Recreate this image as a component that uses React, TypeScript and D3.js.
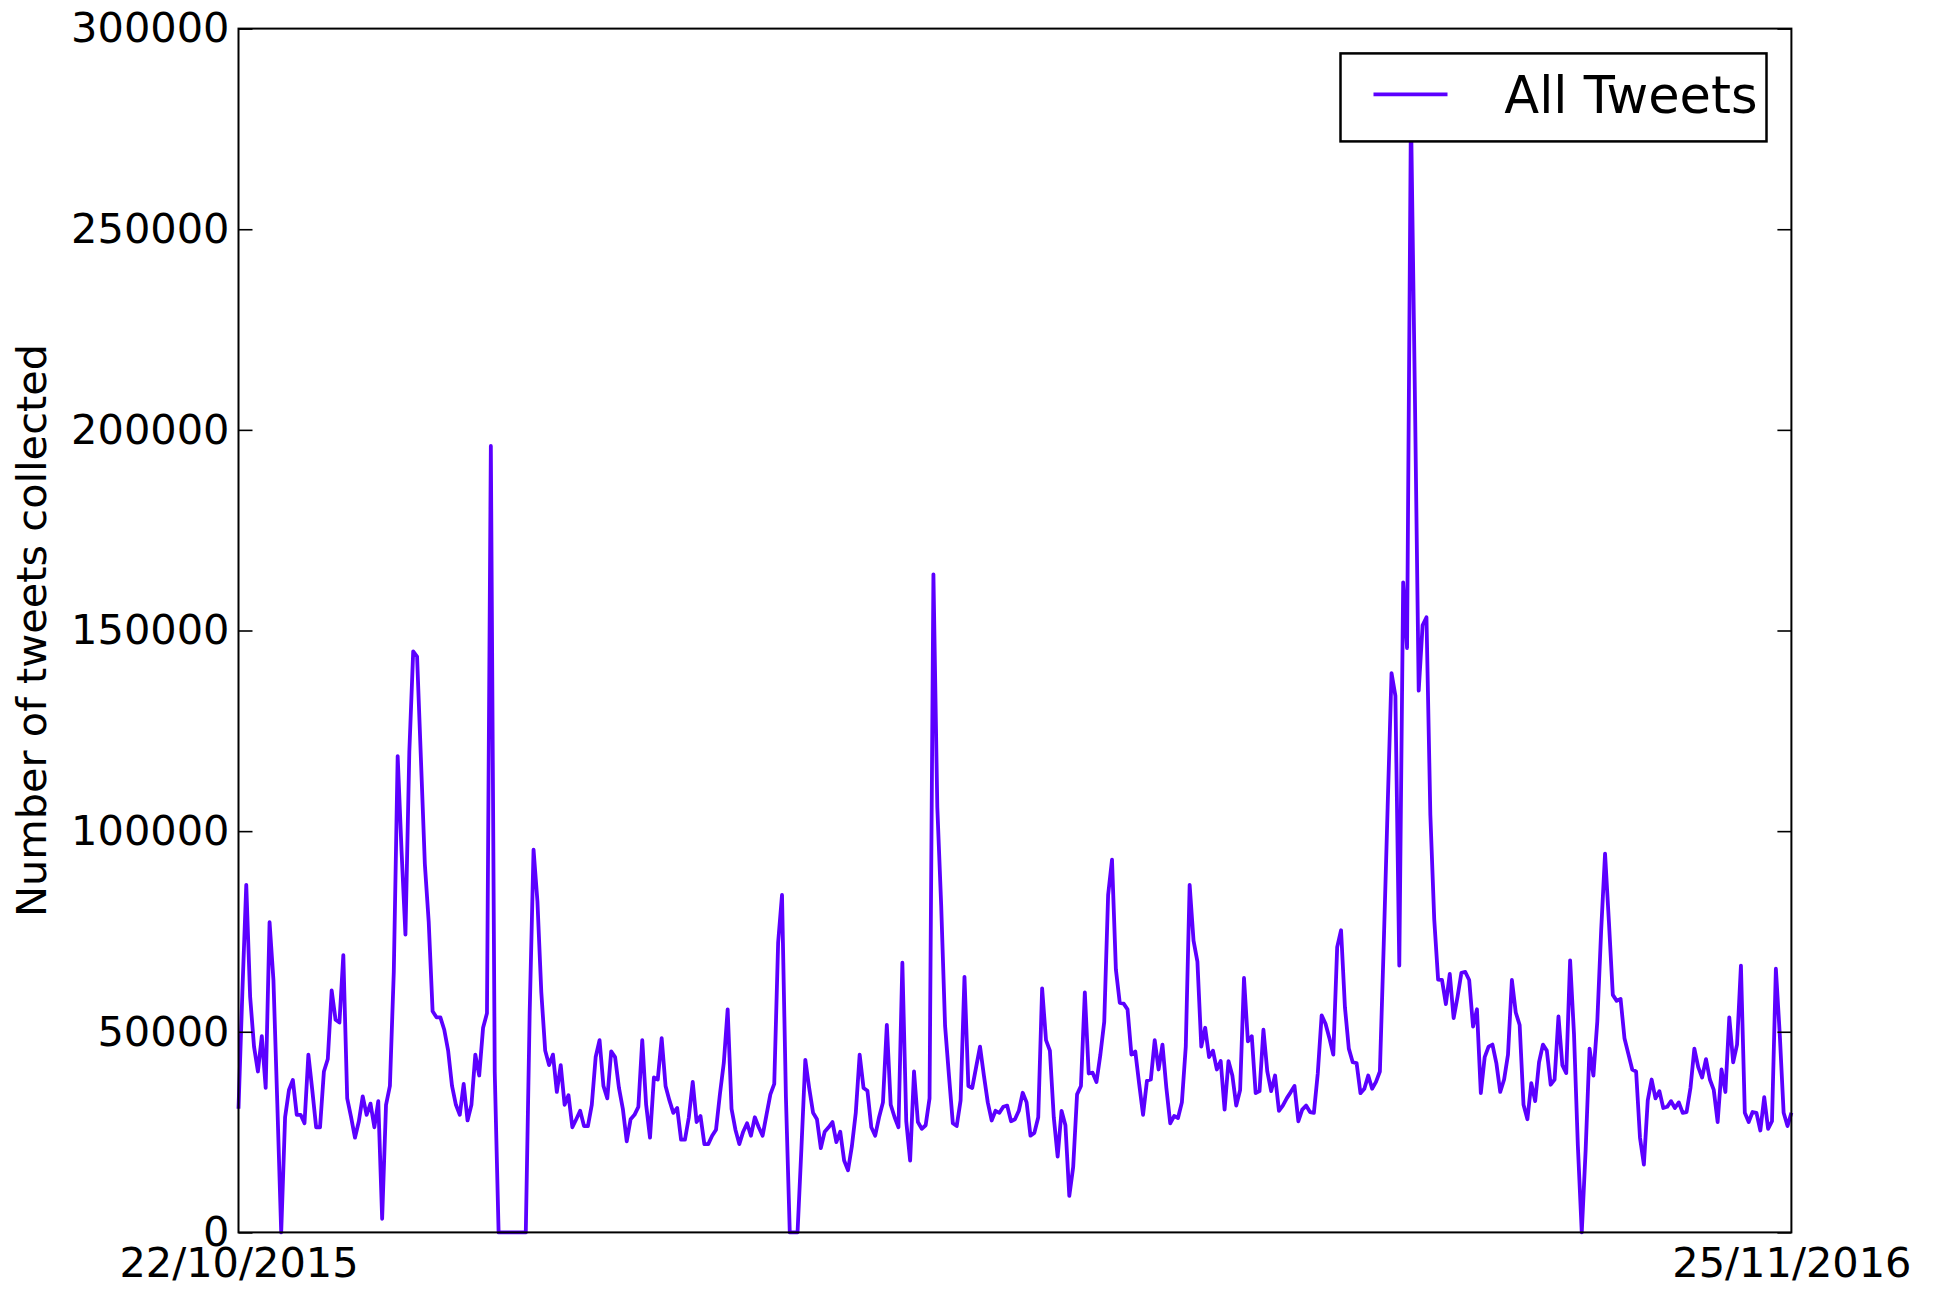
import React, { useRef, useEffect } from 'react';
import * as d3 from 'd3';

// daily counts, 22/10/2015 .. 25/11/2016
const tweets = [
  30800, 60000, 86600, 58700, 46300, 40100, 48900, 36000, 77300, 62900,
  32000, 0, 28700, 35500, 38000, 29300, 29300, 27200, 44300, 35500,
  26200, 26200, 40100, 43200, 60300, 53000, 52300, 69100, 33400, 28700,
  23600, 27700, 33900, 29300, 32100, 26200, 32700, 3400, 31800, 36500,
  64900, 118700, 95000, 74200, 119700, 144800, 143500, 117700, 91800, 77300,
  55100, 53600, 53600, 50500, 45300, 36500, 31800, 29300, 37000, 27900,
  31800, 44300, 39100, 51000, 54600, 196000, 40000, 0, 0, 0,
  0, 0, 0, 0, 0, 54600, 95400, 82500, 59800, 45300,
  41700, 44300, 35000, 41700, 31800, 34200, 26200, 28200, 30300, 26500,
  26500, 31800, 43700, 47900, 36500, 33400, 45100, 43700, 36000, 30800,
  22700, 28200, 29300, 31300, 47900, 31800, 23600, 38600, 38100, 48400,
  36500, 32900, 29800, 31000, 23100, 23100, 28700, 37500, 27500, 29000,
  22000, 22000, 24100, 25600, 34400, 42200, 55600, 30800, 25600, 22000,
  25100, 27200, 24100, 28700, 26200, 24100, 29300, 34400, 37000, 72200,
  84100, 33900, 0, 0, 0, 21000, 43000, 36000, 29800, 28200,
  21000, 25100, 26200, 27500, 22500, 25100, 17900, 15500, 21500, 29800,
  44300, 36000, 35300, 26200, 24100, 28700, 32400, 51700, 31800, 28700,
  26200, 67200, 27700, 17900, 40100, 27500, 25800, 26700, 33400, 164000,
  106000, 81500, 51500, 39100, 27200, 26500, 32900, 63700, 36500, 36000,
  41200, 46300, 39100, 32400, 27900, 30300, 29800, 31300, 31600, 27700,
  28200, 30300, 34800, 32400, 24100, 24800, 28700, 60800, 47900, 45300,
  28700, 18900, 30300, 26700, 9100, 16300, 34400, 36500, 59800, 39600,
  39800, 37500, 44300, 52500, 84100, 92900, 65500, 57200, 57000, 55600,
  44300, 45100, 37000, 29300, 37800, 38100, 47900, 40600, 46800, 36000,
  27200, 29000, 28500, 32400, 46300, 86600, 72700, 67500, 46300, 51000,
  43700, 45300, 40600, 42700, 30600, 42700, 39100, 31600, 35500, 63400,
  47600, 48900, 34700, 35200, 50500, 40100, 35200, 39100, 30300, 31600,
  33400, 34900, 36500, 27700, 30600, 31600, 30000, 29800, 39600, 54100,
  52000, 48400, 44300, 71100, 75300, 56100, 45800, 42400, 42200, 34700,
  35800, 39100, 35800, 37500, 40100, 72000, 106000, 139400, 133700, 66500,
  162000, 145600, 280000, 210000, 135000, 151300, 153300, 104000, 78000, 63000,
  62900, 56900, 64400, 53400, 58700, 64700, 64900, 62900, 51300, 55600,
  34700, 43700, 46300, 46800, 42200, 35000, 38100, 44300, 62900, 54800,
  51700, 31800, 28200, 37200, 32700, 42400, 46800, 45300, 36800, 38100,
  53800, 41700, 39700, 67800, 49400, 21500, 0, 20500, 45800, 39100,
  52500, 75300, 94400, 77300, 59200, 57700, 58200, 48400, 44500, 40600,
  40100, 23600, 16900, 32900, 38100, 33400, 35200, 31000, 31300, 32700,
  31000, 32400, 29800, 30000, 36000, 45800, 41200, 38600, 43200, 38100,
  35500, 27500, 40600, 35000, 53600, 42400, 46800, 66500, 29800, 27500,
  30000, 29800, 25400, 33700, 25800, 27700, 65700, 49400, 29800, 26500,
  29800
];

const startDate = new Date(Date.UTC(2015, 9, 22));
const endDate = new Date(Date.UTC(2016, 10, 25));
const xTickLabels = ['22/10/2015', '25/11/2016'];
const yTicks = [0, 50000, 100000, 150000, 200000, 250000, 300000];
const seriesName = 'All Tweets';
const yLabel = 'Number of tweets collected';

function App() {
  const svgRef = useRef(null);
  const width = 1948;
  const height = 1295;
  const margin = { top: 28.6, right: 156.6, bottom: 62.6, left: 238.5 };
  const lineColor = '#5b00ff';

  useEffect(() => {
    const svg = d3.select(svgRef.current);
    svg.selectAll('*').remove();

    const innerW = width - margin.left - margin.right;
    const innerH = height - margin.top - margin.bottom;

    const data = tweets.map((v, i) => ({ date: d3.utcDay.offset(startDate, i), value: v }));

    const x = d3.scaleUtc().domain([startDate, endDate]).range([0, innerW]);
    const y = d3.scaleLinear().domain([0, 300000]).range([innerH, 0]);

    const g = svg.append('g')
      .attr('transform', 'translate(' + margin.left + ',' + margin.top + ')')
      .style('font-family', 'DejaVu Sans, sans-serif');

    // the line
    const line = d3.line()
      .x(d => x(d.date))
      .y(d => y(d.value));

    g.append('path')
      .datum(data)
      .attr('fill', 'none')
      .attr('stroke', lineColor)
      .attr('stroke-width', 3.8)
      .attr('stroke-linejoin', 'round')
      .attr('d', line);

    // left axis, ticks pointing inward
    const yAxis = g.append('g')
      .call(d3.axisLeft(y).tickValues(yTicks).tickSizeInner(-14).tickSizeOuter(0).tickPadding(9).tickFormat(d3.format('d')));
    yAxis.select('.domain').remove();
    yAxis.selectAll('line').attr('stroke', '#000').attr('stroke-width', 1.6);
    yAxis.selectAll('text').style('font-size', '41.5px').attr('fill', '#000').attr('font-family', 'DejaVu Sans, sans-serif');

    // right axis ticks only
    const yAxisR = g.append('g')
      .attr('transform', 'translate(' + innerW + ',0)')
      .call(d3.axisRight(y).tickValues(yTicks).tickSizeInner(-14).tickSizeOuter(0).tickFormat(() => ''));
    yAxisR.select('.domain').remove();
    yAxisR.selectAll('line').attr('stroke', '#000').attr('stroke-width', 1.6);

    // x labels at the two ends
    const xAxis = g.append('g')
      .attr('transform', 'translate(0,' + innerH + ')')
      .call(d3.axisBottom(x).tickValues([startDate, endDate]).tickSizeInner(0).tickSizeOuter(0).tickPadding(15)
        .tickFormat((d, i) => xTickLabels[i]));
    xAxis.select('.domain').remove();
    xAxis.selectAll('text').style('font-size', '41.5px').attr('fill', '#000').attr('font-family', 'DejaVu Sans, sans-serif');

    // frame
    g.append('rect')
      .attr('width', innerW)
      .attr('height', innerH)
      .attr('fill', 'none')
      .attr('stroke', '#000')
      .attr('stroke-width', 2);

    // y label
    g.append('text')
      .attr('transform', 'translate(' + (31 - margin.left) + ',' + innerH / 2 + ') rotate(-90)')
      .attr('text-anchor', 'middle')
      .attr('dominant-baseline', 'central')
      .style('font-size', '41.5px')
      .text(yLabel);

    // legend
    const lg = g.append('g').attr('transform', 'translate(' + (1340.5 - margin.left) + ',' + (53.4 - margin.top) + ')');
    lg.append('rect')
      .attr('width', 426)
      .attr('height', 88)
      .attr('fill', '#fff')
      .attr('stroke', '#000')
      .attr('stroke-width', 2.5);
    lg.append('line')
      .attr('x1', 33).attr('x2', 107)
      .attr('y1', 41).attr('y2', 41)
      .attr('stroke', lineColor)
      .attr('stroke-width', 3.8);
    lg.append('text')
      .attr('x', 417)
      .attr('y', 60)
      .attr('text-anchor', 'end')
      .style('font-size', '51px')
      .text(seriesName);
  }, []);

  return (
    <div style={{ position: 'absolute', left: 0, top: 0, width: width, height: height, background: '#fff' }}>
      <svg ref={svgRef} width={width} height={height}></svg>
    </div>
  );
}

export default App;
